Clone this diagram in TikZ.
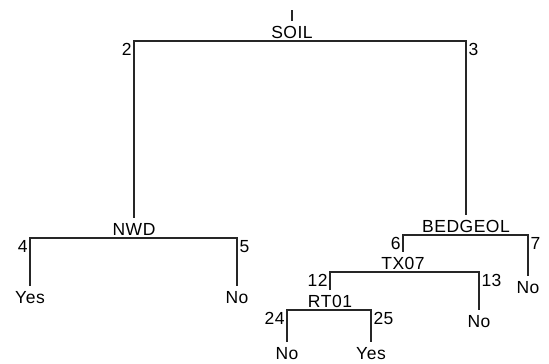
\documentclass[tikz,border=0pt]{standalone}
\usepackage{fontspec}
\setmainfont{Liberation Sans}[LetterSpace=3]
\usetikzlibrary{positioning}
\tikzset{every picture/.style={font=\fontsize{17.5}{20}\selectfont},
        branch/.style={draw=black!85, line width=1.2pt, line join=miter},
        split/.style={inner sep=0pt, outer sep=5pt, anchor=base},   % label sits 3pt above its bar
        leaf/.style={inner sep=0pt, outer sep=5pt, anchor=north},
        num/.style={inner sep=0pt, outer xsep=2.5pt, outer ysep=2pt},
}

\begin{document}
\begin{tikzpicture}[x=1pt, y=-1pt]
      \useasboundingbox (0,0) rectangle (549,364);
      % ROOT
      \coordinate (top) at (292,10);
      \node[split] (soil) at (292,38) {SOIL};
      \coordinate (soil-l) at (134,41);
      \coordinate (soil-r) at (466,41);
      \node[num, anchor=north east] (n2) at (soil-l) {2};
      \node[num, anchor=north west] (n3) at (soil-r) {3};

      % LEFT SUBTREE
      \node[split] (nwd) at (134,235) {NWD};
      \coordinate (nwd-l) at (30,238);
      \coordinate (nwd-r) at (237,238);
      \node[num, anchor=north east] (n4) at (nwd-l) {4};
      \node[num, anchor=north west] (n5) at (nwd-r) {5};
      \node[leaf] (l4) at (30,286) {Yes};
      \node[leaf] (l5) at (237,286) {No};

      % RIGHT SUBTREE
      \node[split] (bedgeol) at (466,232) {BEDGEOL};
      \coordinate (bed-l) at (403,235);
      \coordinate (bed-r) at (528,235);
      \node[num, anchor=north east] (n6) at (bed-l) {6};
      \node[num, anchor=north west] (n7) at (bed-r) {7};
      \node[leaf] (l7) at (528,276) {No};

      \node[split] (tx07) at (403,269) {TX07};
      \coordinate (tx-l) at (330,272);
      \coordinate (tx-r) at (479,272);
      \node[num, anchor=north east] (n12) at (tx-l) {12};
      \node[num, anchor=north west] (n13) at (tx-r) {13};
      \node[leaf] (l13) at (479,310) {No};

      \node[split] (rt01) at (330,307) {RT01};
      \coordinate (rt-l) at (287,310);
      \coordinate (rt-r) at (371,310);
      \node[num, anchor=north east] (n24) at (rt-l) {24};
      \node[num, anchor=north west] (n25) at (rt-r) {25};
      \node[leaf] (l24) at (287,342) {No};
      \node[leaf] (l25) at (371,342) {Yes};

      % BRANCHES
      \draw[branch] (top) -- (soil.north);
      \draw[branch] (nwd.north) -- (soil-l) -- (soil-r) -- (bedgeol.north);
      \draw[branch] (l4.north) -- (nwd-l) -- (nwd-r) -- (l5.north);
      \draw[branch] (tx07.north) -- (bed-l) -- (bed-r) -- (l7.north);
      \draw[branch] (rt01.north) -- (tx-l) -- (tx-r) -- (l13.north);
      \draw[branch] (l24.north) -- (rt-l) -- (rt-r) -- (l25.north);
\end{tikzpicture}
\end{document}
